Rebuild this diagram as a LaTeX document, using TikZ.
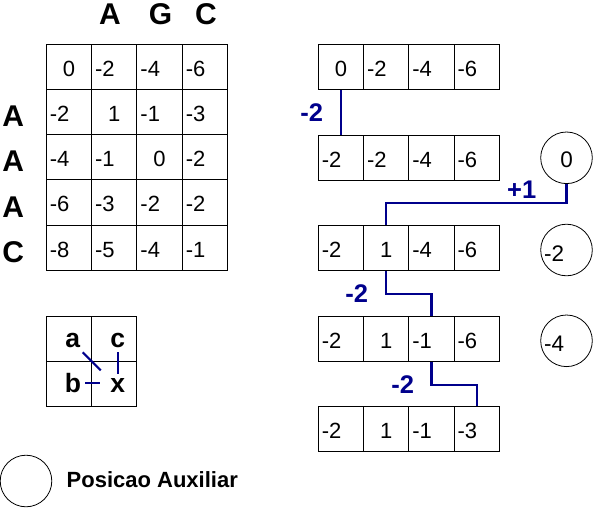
\documentclass[tikz,border=0pt]{standalone}
\usepackage{fontspec}
\setmainfont{Liberation Sans}
\definecolor{traceblue}{RGB}{0,0,140}
\begin{document}
\begin{tikzpicture}[x=1pt,y=-1pt,
  cell/.style={draw,line width=1pt,minimum height=45.2pt,text width=38.3pt,inner xsep=3.5pt,inner ysep=0pt,text height=19pt,text depth=0pt,align=left,font=\fontsize{22}{22}\selectfont},
  nonneg/.style={align=center},
  aux/.style={draw,circle,line width=0.8pt,minimum size=51.6pt,inner sep=0pt,text width=45pt,text height=22pt,text depth=0pt,align=left,font=\fontsize{22.5}{22.5}\selectfont},
  seq/.style={anchor=base,inner sep=0pt,font=\bfseries\fontsize{30}{30}\selectfont},
  letter/.style={anchor=base,inner sep=4pt,font=\bfseries\fontsize{26.5}{26.5}\selectfont},
  trace/.style={traceblue,line width=2.2pt},
  cost/.style={text=traceblue,inner sep=0pt,font=\bfseries\fontsize{25.5}{25.5}\selectfont}]
\useasboundingbox (0,0) rectangle (593,508);

\node[seq] (top1) at (110,25) {A};
\node[seq] (top2) at (160.5,25) {G};
\node[seq] (top3) at (206,25) {C};
\node[seq] (left1) at (13.3,126.7) {A};
\node[seq] (left2) at (13.3,171.8) {A};
\node[seq] (left3) at (13.3,217) {A};
\node[seq] (left4) at (13.3,262.3) {C};

\node[cell,nonneg] (m00) at (69,66.8) {0};
\node[cell] (m01) at (114.3,66.8) {-2};
\node[cell] (m02) at (159.6,66.8) {-4};
\node[cell] (m03) at (204.9,66.8) {-6};
\node[cell] (m10) at (69,112) {-2};
\node[cell,nonneg] (m11) at (114.3,112) {1};
\node[cell] (m12) at (159.6,112) {-1};
\node[cell] (m13) at (204.9,112) {-3};
\node[cell] (m20) at (69,157.2) {-4};
\node[cell] (m21) at (114.3,157.2) {-1};
\node[cell,nonneg] (m22) at (159.6,157.2) {0};
\node[cell] (m23) at (204.9,157.2) {-2};
\node[cell] (m30) at (69,202.4) {-6};
\node[cell] (m31) at (114.3,202.4) {-3};
\node[cell] (m32) at (159.6,202.4) {-2};
\node[cell] (m33) at (204.9,202.4) {-2};
\node[cell] (m40) at (69,247.6) {-8};
\node[cell] (m41) at (114.3,247.6) {-5};
\node[cell] (m42) at (159.6,247.6) {-4};
\node[cell] (m43) at (204.9,247.6) {-1};

\node[cell] (sa) at (69,338.7) {};
\node[cell] (sc) at (114.3,338.7) {};
\node[cell] (sb) at (69,383.9) {};
\node[cell] (sx) at (114.3,383.9) {};
\node[letter] (la) at (72.8,347.7) {a};
\node[letter] (lc) at (117.8,347.7) {c};
\node[letter] (lb) at (73,392.3) {b};
\node[letter] (lx) at (117.8,392.3) {x};
\draw[trace,shorten <=19.3pt,shorten >=19.1pt] (sa.center) -- (sx.center);
\draw[trace] (lc.south) -- (lx.north);
\draw[trace,shorten >=6pt] (lb.east) -- (lb.east -| lx.west);

\node[cell,nonneg] (r1c1) at (340.9,66.8) {0};
\node[cell] (r1c2) at (386.2,66.8) {-2};
\node[cell] (r1c3) at (431.5,66.8) {-4};
\node[cell] (r1c4) at (476.8,66.8) {-6};
\node[cell] (r2c1) at (340.9,157.9) {-2};
\node[cell] (r2c2) at (386.2,157.9) {-2};
\node[cell] (r2c3) at (431.5,157.9) {-4};
\node[cell] (r2c4) at (476.8,157.9) {-6};
\node[cell] (r3c1) at (340.9,247.9) {-2};
\node[cell,nonneg] (r3c2) at (386.2,247.9) {1};
\node[cell] (r3c3) at (431.5,247.9) {-4};
\node[cell] (r3c4) at (476.8,247.9) {-6};
\node[cell] (r4c1) at (340.9,338.9) {-2};
\node[cell,nonneg] (r4c2) at (386.2,338.9) {1};
\node[cell] (r4c3) at (431.5,338.9) {-1};
\node[cell] (r4c4) at (476.8,338.9) {-6};
\node[cell] (r5c1) at (340.9,428.7) {-2};
\node[cell,nonneg] (r5c2) at (386.2,428.7) {1};
\node[cell] (r5c3) at (431.5,428.7) {-1};
\node[cell] (r5c4) at (476.8,428.7) {-3};

\node[aux,nonneg,text height=20pt] (aux0) at (566.5,157.8) {0};
\node[aux] (aux1) at (566.5,250) {-2};
\node[aux] (aux2) at (566.5,340.8) {-4};

\draw[trace] (r1c1.south) -- (r2c1.north);
\draw[trace] (aux0.south) -- ++(0,18.7) -| (r3c2.north);
\draw[trace] (r3c2.south) -- ++(0,22.7) -| (r4c3.north);
\draw[trace] (r4c3.south) -- ++(0,23) -| (r5c4.north);
\node[cost] (cost1) at (311.7,112.5) {-2};
\node[cost] (cost2) at (521.7,190) {+1};
\node[cost] (cost3) at (356.7,294) {-2};
\node[cost] (cost4) at (402.8,384.2) {-2};

\node[aux] (auxleg) at (26,481) {};
\node[anchor=base west,inner sep=0pt,font=\bfseries\fontsize{22}{22}\selectfont] (legtext) at (66.5,487.3) {Posicao Auxiliar};
\end{tikzpicture}
\end{document}
